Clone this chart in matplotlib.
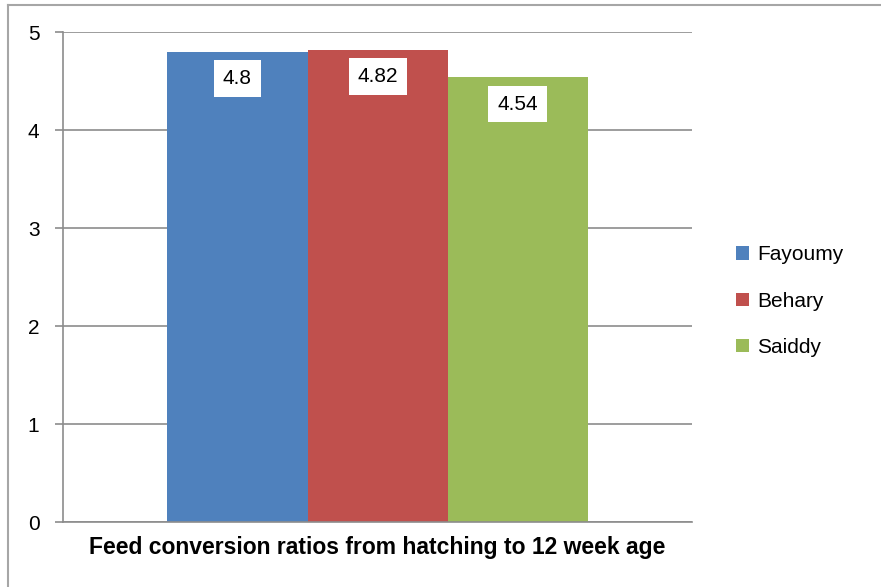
import matplotlib.pyplot as plt
from matplotlib.lines import Line2D

breeds = ['Fayoumy', 'Behary', 'Saiddy']
fcr = [4.8, 4.82, 4.54]
colors = ['#4f81bd', '#c0504d', '#9bbb59']
xlabel = 'Feed conversion ratios from hatching to 12 week age'

plt.rcParams['font.family'] = ['Liberation Sans', 'DejaVu Sans']

fig = plt.figure(figsize=(8.81, 5.87), dpi=100)
ax = fig.add_axes([63 / 881, 1 - 522 / 587, 629 / 881, 490 / 587])

w = 140 / 629
pos = [0.5 - w, 0.5, 0.5 + w]
for p, v, c, name in zip(pos, fcr, colors, breeds):
    ax.bar(p, v, width=w, color=c, label=name, zorder=2)
    ax.annotate(f'{v:g}', xy=(p, v), xytext=(0, -19.5), textcoords='offset points',
                ha='center', va='center', fontsize=15, color='black', zorder=4,
                bbox=dict(boxstyle='square,pad=0.42', fc='white', ec='none'))

ax.set_xlim(0, 1)
ax.set_ylim(0, 5)
ax.set_yticks(range(6))
ax.set_xticks([])
ax.yaxis.grid(True, color='#8c8c8c', linewidth=1.2, zorder=0)
ax.set_axisbelow(True)
for s in ['top', 'right']:
    ax.spines[s].set_visible(False)
for s in ['left', 'bottom']:
    ax.spines[s].set_color('#8c8c8c')
    ax.spines[s].set_linewidth(1.2)
ax.tick_params(axis='y', length=6, width=1.2, color='#8c8c8c', labelsize=15, pad=11)
ax.set_xlabel(xlabel, fontsize=16.5, fontweight='bold', labelpad=10)

ax.legend(loc='center left', bbox_to_anchor=(673 / 629, 0.451), frameon=False,
          fontsize=15, handlelength=0.6, handleheight=0.6, handletextpad=0.4,
          labelspacing=1.3, borderaxespad=0, borderpad=0)

# outer chart border (top and left edges visible)
fig.add_artist(Line2D([8 / 881, 8 / 881], [0, 1 - 5 / 587], color='#a6a6a6', lw=1.5))
fig.add_artist(Line2D([8 / 881, 1], [1 - 5 / 587, 1 - 5 / 587], color='#a6a6a6', lw=1.5))

fig.savefig('out.png', dpi=100)
